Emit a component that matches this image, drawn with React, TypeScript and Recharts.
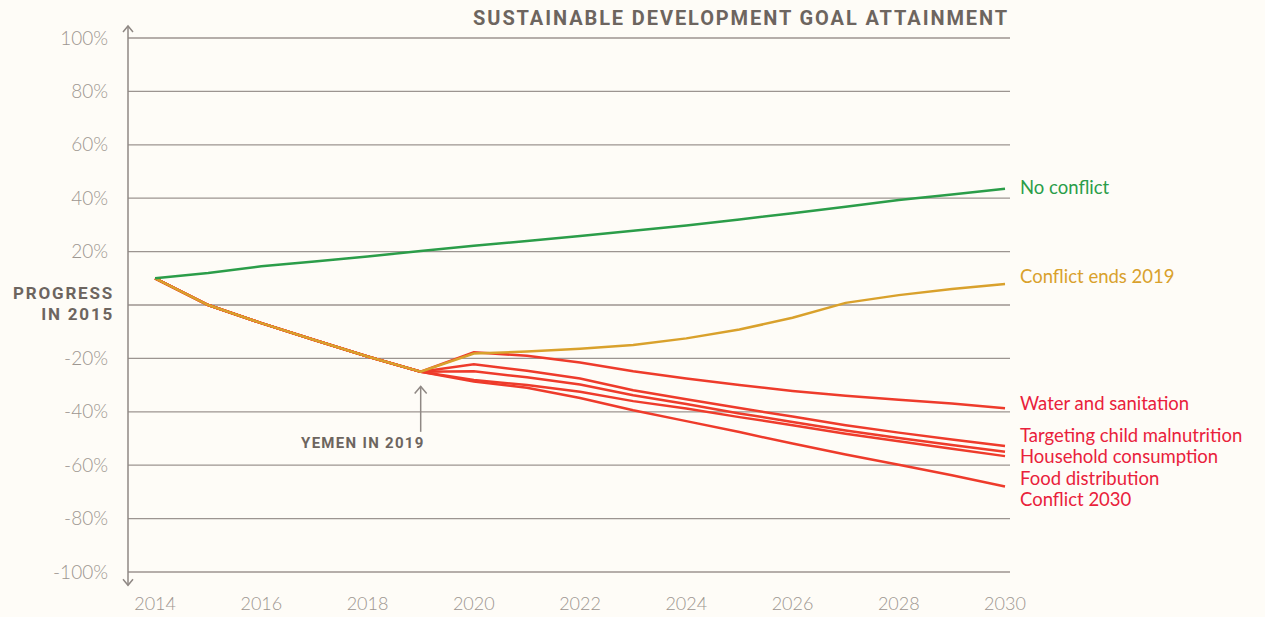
import { LineChart, Line, XAxis, YAxis, CartesianGrid, ReferenceLine } from 'recharts'

// years on the x axis
const years = [2014, 2015, 2016, 2017, 2018, 2019, 2020, 2021, 2022, 2023, 2024, 2025, 2026, 2027, 2028, 2029, 2030]
const xTicks = [2014, 2016, 2018, 2020, 2022, 2024, 2026, 2028, 2030]
const yTicks = [-100, -80, -60, -40, -20, 0, 20, 40, 60, 80, 100]

// progress (%), 2014-2030
const noConflict = [10, 12, 14.5, 16.3, 18.2, 20.2, 22.2, 24, 25.8, 27.8, 29.8, 32, 34.4, 36.8, 39.3, 41.4, 43.5]

// shared conflict path 2014-2019
const conflictTo2019 = [10, 0, -6.8, -13.1, -19.3, -25]

// scenarios after 2019 (2020-2030)
const conflictEnds2019 = [-18.2, -17.4, -16.4, -15, -12.5, -9.2, -4.8, 0.8, 3.7, 6, 7.9]
const waterSanitation = [-17.7, -19, -21.5, -24.8, -27.5, -30, -32.2, -34, -35.5, -36.9, -38.7]
const childMalnutrition = [-22.2, -24.6, -27.5, -31.9, -35.3, -38.6, -41.8, -45, -47.8, -50.4, -52.8]
const householdConsumption = [-24.8, -27.1, -29.8, -33.8, -37.1, -40.6, -43.8, -47, -49.8, -52.4, -55]
const foodDistribution = [-28.1, -30, -32.5, -36, -38.8, -42, -45, -48.2, -51, -53.8, -56.6]
const conflict2030 = [-28.7, -31, -34.8, -39.4, -43.5, -47.6, -51.9, -56, -59.8, -63.8, -68]

const RED = '#ee3b2b'
const RED_TEXT = '#e9213b'
const YELLOW = '#d9a12c'
const GREEN = '#2b9d49'
const GRID = '#9c9591'
const TICK_TEXT = '#9d9690'
const DARK_TEXT = '#6d655f'

const X_MIN = 2013.49
const X_MAX = 2030.094

const series = [
  { key: 'conflict2030', name: 'Conflict 2030', after: conflict2030, color: RED, text: RED_TEXT, dy: 12.5 },
  { key: 'food', name: 'Food distribution', after: foodDistribution, color: RED, text: RED_TEXT, dy: 22 },
  { key: 'household', name: 'Household consumption', after: householdConsumption, color: RED, text: RED_TEXT, dy: 5 },
  { key: 'child', name: 'Targeting child malnutrition', after: childMalnutrition, color: RED, text: RED_TEXT, dy: -10 },
  { key: 'water', name: 'Water and sanitation', after: waterSanitation, color: RED, text: RED_TEXT, dy: -5 },
  { key: 'ends2019', name: 'Conflict ends 2019', after: conflictEnds2019, color: YELLOW, text: YELLOW, dy: -7 },
]

const data = years.map((year, i) => {
  const row: Record<string, number> = { year, noConflict: noConflict[i] }
  series.forEach((s) => {
    row[s.key] = i < conflictTo2019.length ? conflictTo2019[i] : s.after[i - conflictTo2019.length]
  })
  return row
})

const labelFont = 'Lato, "Open Sans", sans-serif'

const endLabel = (name: string, color: string, dy: number) => (props: any) => {
  if (props.index !== years.length - 1) return null
  return (
    <text
      x={props.x + 15}
      y={props.y + dy}
      dy={6.5}
      fill={color}
      fontSize={18.5}
      fontFamily={labelFont}
    >
      {name}
    </text>
  )
}

const YTick = (props: any) => {
  const { x, y, payload } = props
  if (payload.value === 0) {
    return (
      <text
        x={x - 14}
        y={y}
        textAnchor="end"
        fill={DARK_TEXT}
        fontSize={17}
        fontWeight="bold"
        fontFamily="Roboto, sans-serif"
        letterSpacing={1.8}
      >
        <tspan x={x - 14} dy={-6}>PROGRESS</tspan>
        <tspan x={x - 14} dy={21}>IN 2015</tspan>
      </text>
    )
  }
  return (
    <text x={x - 20} y={y} dy={6.5} textAnchor="end" fill={TICK_TEXT} fontSize={19} fontFamily={labelFont} fontWeight={300}>
      {payload.value}%
    </text>
  )
}

const XTick = (props: any) => {
  const { x, y, payload } = props
  return (
    <text x={x} y={y} dy={38} textAnchor="middle" fill={TICK_TEXT} fontSize={18} fontFamily={labelFont} fontWeight={300}>
      {payload.value}
    </text>
  )
}

// vertical axis with arrow heads at both ends
const AxisArrow = (props: any) => {
  const { x1, y1, x2, y2 } = props
  return (
    <g stroke="#8f8884" strokeWidth={1.5} fill="none">
      <line x1={x1} y1={y1} x2={x2} y2={y2} />
      <polyline points={`${x1 - 5},${y1 + 6} ${x1},${y1} ${x1 + 5},${y1 + 6}`} />
      <polyline points={`${x2 - 5},${y2 - 6} ${x2},${y2} ${x2 + 5},${y2 - 6}`} />
    </g>
  )
}

const YemenArrow = (props: any) => {
  const { x1, y1, x2, y2 } = props
  return (
    <g>
      <g stroke="#8f8884" strokeWidth={1.5} fill="none">
        <line x1={x1} y1={y1} x2={x2} y2={y2} />
        <polyline points={`${x1 - 6},${y1 + 7} ${x1},${y1} ${x1 + 6},${y1 + 7}`} />
      </g>
      <text
        x={x2 + 4}
        y={y2 + 16}
        textAnchor="end"
        fill={DARK_TEXT}
        fontSize={15}
        fontWeight="bold"
        fontFamily="Roboto, sans-serif"
        letterSpacing={1.3}
      >
        YEMEN IN 2019
      </text>
    </g>
  )
}

export default function App() {
  return (
    <div
      style={{
        position: 'absolute',
        left: 0,
        top: 0,
        width: 1265,
        height: 617,
        background: '#fefcf7',
        overflow: 'hidden',
      }}
    >
      <div
        style={{
          position: 'absolute',
          right: 256,
          top: 6,
          fontFamily: 'Roboto, sans-serif',
          fontWeight: 'bold',
          fontSize: 20,
          letterSpacing: 1.9,
          color: DARK_TEXT,
          whiteSpace: 'nowrap',
        }}
      >
        SUSTAINABLE DEVELOPMENT GOAL ATTAINMENT
      </div>
      <LineChart
        width={1265}
        height={617}
        data={data}
        margin={{ top: 38, right: 255, bottom: 0, left: 0 }}
        style={{ position: 'absolute', left: 0, top: 0 }}
      >
        <CartesianGrid vertical={false} stroke={GRID} strokeWidth={1.3} />
        <XAxis
          dataKey="year"
          type="number"
          domain={[X_MIN, X_MAX]}
          ticks={xTicks}
          allowDataOverflow
          axisLine={false}
          tickLine={false}
          tickSize={0}
          tickMargin={0}
          tick={<XTick />}
          height={45}
        />
        <YAxis
          type="number"
          domain={[-100, 100]}
          ticks={yTicks}
          width={128}
          axisLine={false}
          tickLine={false}
          tickSize={0}
          tickMargin={0}
          tick={<YTick />}
          interval={0}
        />
        <ReferenceLine
          segment={[{ x: X_MIN, y: 104.5 }, { x: X_MIN, y: -105 }]}
          ifOverflow="visible"
          shape={<AxisArrow />}
        />
        <ReferenceLine
          segment={[{ x: 2019, y: -30.5 }, { x: 2019, y: -47.5 }]}
          ifOverflow="visible"
          shape={<YemenArrow />}
        />
        {series.map((s) => (
          <Line
            key={s.key}
            dataKey={s.key}
            type="linear"
            stroke={s.color}
            strokeWidth={2.5}
            dot={false}
            isAnimationActive={false}
            label={endLabel(s.name, s.text, s.dy)}
          />
        ))}
        <Line
          dataKey="noConflict"
          type="linear"
          stroke={GREEN}
          strokeWidth={2.5}
          dot={false}
          isAnimationActive={false}
          label={endLabel('No conflict', GREEN, -1)}
        />
      </LineChart>
    </div>
  )
}
